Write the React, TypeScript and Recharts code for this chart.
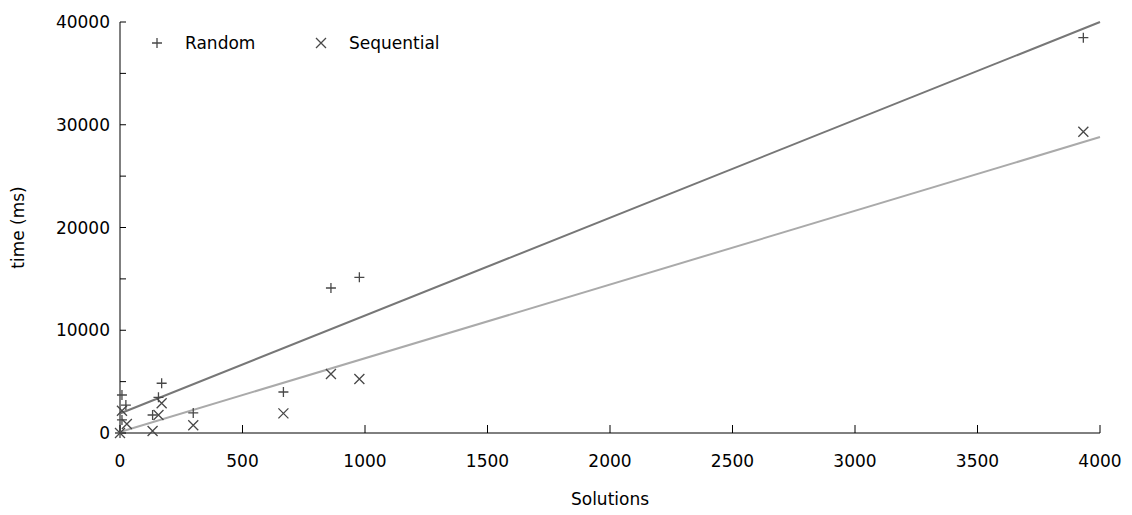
import React from 'react';
import { ScatterChart, Scatter, XAxis, YAxis, Legend, Label } from 'recharts';

// Random strategy: solutions found vs time (ms)
const randomSolutions = [0, 8, 8, 24, 133, 157, 170, 299, 667, 861, 977, 3932];
const randomTimes = [0, 3700, 1270, 2720, 1750, 3470, 4840, 1950, 3990, 14110, 15150, 38470];

// Sequential strategy
const sequentialSolutions = [0, 8, 28, 133, 157, 170, 299, 667, 861, 977, 3932];
const sequentialTimes = [0, 2170, 875, 195, 1750, 2890, 750, 1910, 5740, 5260, 29320];

// linear fits, drawn between the ends of the x range
const fitSolutions = [0, 4000];
const randomFitTimes = [1900, 40000];
const sequentialFitTimes = [100, 28800];

const xTicks = [0, 500, 1000, 1500, 2000, 2500, 3000, 3500, 4000];
const yTicks = [0, 5000, 10000, 15000, 20000, 25000, 30000, 35000, 40000];

const FONT = 'DejaVu Sans';
const MARK = '#484848';

const toPoints = (xs: number[], ys: number[]) => xs.map((x, i) => ({ x, y: ys[i] }));

const randomData = toPoints(randomSolutions, randomTimes);
const sequentialData = toPoints(sequentialSolutions, sequentialTimes);
const randomFit = toPoints(fitSolutions, randomFitTimes);
const sequentialFit = toPoints(fitSolutions, sequentialFitTimes);

const Plus = (props: any) => {
  const { cx, cy } = props;
  const r = 5;
  return (
    <path d={`M${cx - r},${cy}H${cx + r}M${cx},${cy - r}V${cy + r}`} stroke={MARK} strokeWidth={1.3} fill="none" />
  );
};

const Cross = (props: any) => {
  const { cx, cy } = props;
  const r = 5;
  return (
    <path
      d={`M${cx - r},${cy - r}L${cx + r},${cy + r}M${cx - r},${cy + r}L${cx + r},${cy - r}`}
      stroke={MARK}
      strokeWidth={1.3}
      fill="none"
    />
  );
};

const NoMark = () => <g />;

const legendItems = [
  { name: 'Random', icon: Plus },
  { name: 'Sequential', icon: Cross },
];

const renderLegend = () => (
  <div style={{ display: 'flex', alignItems: 'center', fontFamily: FONT, fontSize: 17, lineHeight: '20px', color: '#000' }}>
    {legendItems.map(item => {
      const Icon = item.icon;
      return (
        <div key={item.name} style={{ display: 'flex', alignItems: 'center', width: 164 }}>
          <svg width={14} height={14} style={{ marginRight: 21 }}>
            <Icon cx={7} cy={7} />
          </svg>
          <span>{item.name}</span>
        </div>
      );
    })}
  </div>
);

const App: React.FC = () => {
  return (
    <div style={{ position: 'absolute', left: 0, top: 0, background: '#fff' }}>
      <ScatterChart width={1132} height={515} margin={{ top: 22, right: 32, bottom: 0, left: 0 }}>
        <XAxis
          type="number"
          dataKey="x"
          domain={[0, 4000]}
          ticks={xTicks}
          interval={0}
          height={82}
          tickSize={-8}
          tickMargin={30}
          stroke="#000"
          tick={{ fill: '#000', fontSize: 17, fontFamily: FONT }}
        >
          <Label value="Solutions" position="insideBottom" offset={10} fill="#000" fontSize={17} fontFamily={FONT} />
        </XAxis>
        <YAxis
          type="number"
          dataKey="y"
          domain={[0, 40000]}
          ticks={yTicks}
          interval={0}
          width={120}
          tickSize={-6}
          tickMargin={16}
          stroke="#000"
          tick={{ fill: '#000', fontSize: 17, fontFamily: FONT }}
          tickFormatter={(v: number) => (v % 10000 === 0 ? String(v) : '')}
        >
          <Label
            value="time (ms)"
            angle={-90}
            position="insideLeft"
            offset={18}
            fill="#000"
            fontSize={17}
            fontFamily={FONT}
            style={{ textAnchor: 'middle' }}
          />
        </YAxis>
        <Legend
          layout="horizontal"
          verticalAlign="middle"
          align="center"
          content={renderLegend}
          wrapperStyle={{ top: 33, left: 150, width: 'auto' }}
        />
        <Scatter
          name="Random fit"
          data={randomFit}
          line={{ stroke: '#777777', strokeWidth: 2 }}
          shape={NoMark}
          legendType="none"
          isAnimationActive={false}
        />
        <Scatter
          name="Sequential fit"
          data={sequentialFit}
          line={{ stroke: '#aaaaaa', strokeWidth: 2 }}
          shape={NoMark}
          legendType="none"
          isAnimationActive={false}
        />
        <Scatter name="Random" data={randomData} shape={Plus} isAnimationActive={false} />
        <Scatter name="Sequential" data={sequentialData} shape={Cross} isAnimationActive={false} />
      </ScatterChart>
    </div>
  );
};

export default App;
